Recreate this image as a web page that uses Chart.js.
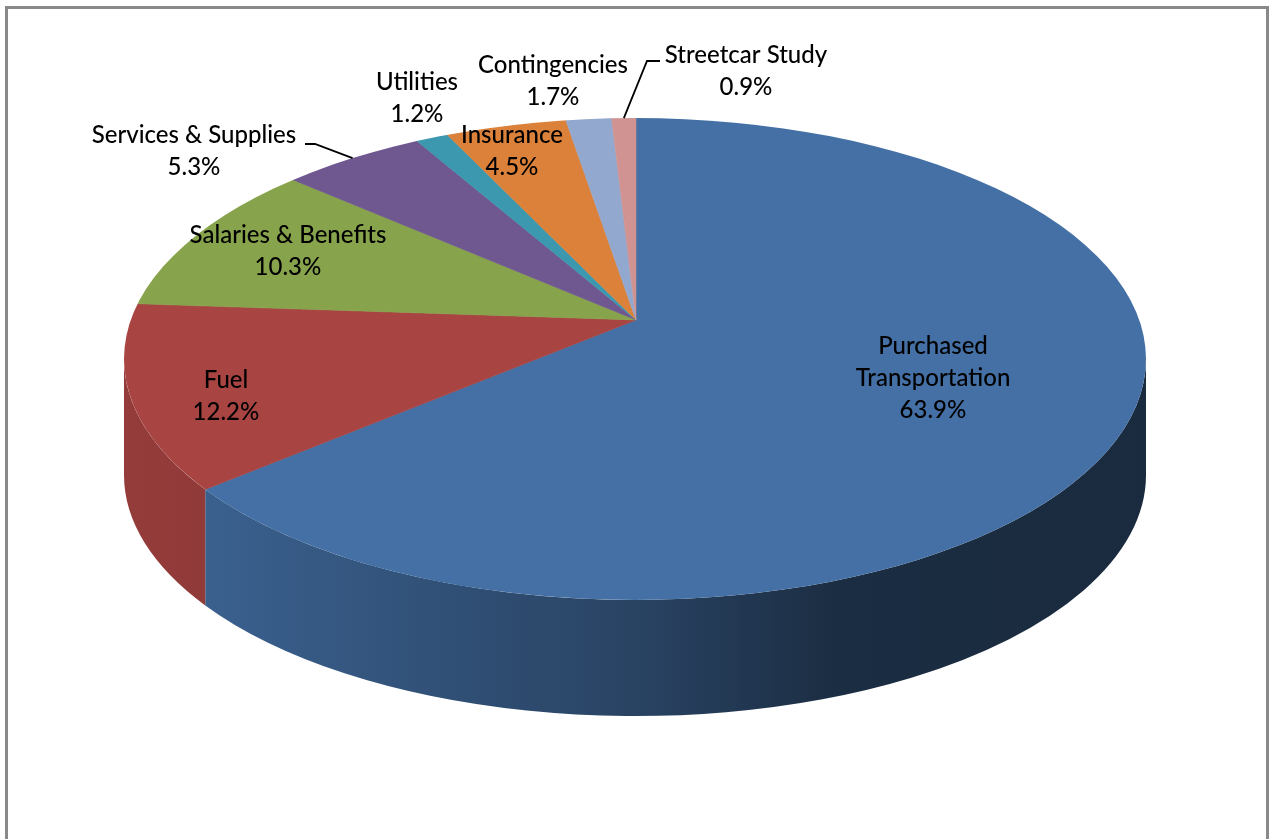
<!DOCTYPE html>
<html>
<head>
<meta charset="utf-8">
<title>Operating budget</title>
<script src="https://cdn.jsdelivr.net/npm/chart.js@4.4.0/dist/chart.umd.min.js"></script>
<style>
  html, body { margin: 0; padding: 0; background: #fff; overflow: hidden; }
  canvas { display: block; }
</style>
</head>
<body>
<canvas id="budgetPie" width="1273" height="839"></canvas>
<script>
// data (percent of total)
const categories = ['Purchased Transportation', 'Fuel', 'Salaries & Benefits', 'Services & Supplies',
                    'Utilities', 'Insurance', 'Contingencies', 'Streetcar Study'];
const shares = [63.9, 12.2, 10.3, 5.3, 1.2, 4.5, 1.7, 0.9];
const sliceColors = ['#4470a5', '#a84442', '#87a34c', '#6f5790', '#3c98ae', '#db813a', '#93a8ce', '#d09392'];

// how the names are broken into lines on the chart
const labelLines = [['Purchased', 'Transportation'], ['Fuel'], ['Salaries & Benefits'], ['Services & Supplies'],
                    ['Utilities'], ['Insurance'], ['Contingencies'], ['Streetcar Study']];
// label anchor: centre x, baseline of first line
const labelPos = [[933, 354], [226, 388], [288, 243], [194, 143], [417, 90], [512, 143], [553, 73], [746, 63]];
// leader lines: start point next to the label, ends on the rim of the slice
const leaders = { 3: [[305, 144], [315, 144]], 7: [[660, 61], [647, 61]] };

// 3d look: top face ellipse and where the slices meet
const face = { cx: 635, cy: 359, rx: 511, ry: 241, depth: 116 };
const apex = { x: 636, y: 320, rx: 620, ry: 291 };

function shade(hex, f) {
  const n = parseInt(hex.slice(1), 16);
  const r = Math.round(((n >> 16) & 255) * f), g = Math.round(((n >> 8) & 255) * f), b = Math.round((n & 255) * f);
  return 'rgb(' + r + ',' + g + ',' + b + ')';
}

// where a slice edge (library angle) meets the rim of the top face
function rimPoint(phi) {
  const ux = apex.rx * Math.cos(phi) / face.rx, uy = apex.ry * Math.sin(phi) / face.ry;
  const ox = (apex.x - face.cx) / face.rx, oy = (apex.y - face.cy) / face.ry;
  const a = ux * ux + uy * uy, b = 2 * (ox * ux + oy * uy), c = ox * ox + oy * oy - 1;
  const s = (-b + Math.sqrt(b * b - 4 * a * c)) / (2 * a);
  const px = ox + s * ux, py = oy + s * uy;
  let t = Math.atan2(py, px);
  while (t - phi > Math.PI) t -= 2 * Math.PI;
  while (phi - t > Math.PI) t += 2 * Math.PI;
  return { t: t, x: face.cx + face.rx * px, y: face.cy + face.ry * py };
}

const pie3d = {
  id: 'pie3d',
  beforeDraw(chart) {
    const ctx = chart.ctx;
    ctx.save();
    ctx.fillStyle = '#fff';
    ctx.fillRect(0, 0, chart.width, chart.height);
    ctx.strokeStyle = '#898989';
    ctx.lineWidth = 3;
    ctx.strokeRect(6.5, 7.5, 1261, 1000);
    ctx.restore();
  },
  beforeDatasetsDraw(chart) {
    const ctx = chart.ctx;
    const arcs = chart.getDatasetMeta(0).data;
    // side walls
    arcs.forEach((arc, i) => {
      const t1 = rimPoint(arc.startAngle).t, t2 = rimPoint(arc.endAngle).t;
      const a = Math.max(t1, 0), b = Math.min(t2, Math.PI);
      if (a >= b) return;
      const grad = ctx.createLinearGradient(face.cx - face.rx, 0, face.cx + face.rx, 0);
      const col = sliceColors[i];
      grad.addColorStop(0, shade(col, 0.88));
      grad.addColorStop(0.085, shade(col, 0.86));
      grad.addColorStop(0.5, shade(col, 0.6));
      grad.addColorStop(0.7, shade(col, 0.4));
      grad.addColorStop(1, shade(col, 0.38));
      ctx.save();
      ctx.beginPath();
      ctx.ellipse(face.cx, face.cy, face.rx, face.ry, 0, a, b, false);
      ctx.ellipse(face.cx, face.cy + face.depth, face.rx, face.ry, 0, b, a, true);
      ctx.closePath();
      ctx.fillStyle = grad;
      ctx.fill();
      ctx.restore();
    });
    // top face: squash the library's pie and clip it to the face ellipse
    const arc0 = arcs[0];
    ctx.save();
    ctx.beginPath();
    ctx.ellipse(face.cx, face.cy, face.rx, face.ry, 0, 0, 2 * Math.PI);
    ctx.clip();
    ctx.translate(apex.x, apex.y);
    ctx.scale(apex.rx / arc0.outerRadius, apex.ry / arc0.outerRadius);
    ctx.translate(-arc0.x, -arc0.y);
  },
  afterDatasetsDraw(chart) {
    chart.ctx.restore();
  },
  afterDraw(chart) {
    const ctx = chart.ctx;
    const arcs = chart.getDatasetMeta(0).data;
    ctx.save();
    ctx.strokeStyle = '#000';
    ctx.lineWidth = 1.8;
    Object.keys(leaders).forEach(k => {
      const arc = arcs[k];
      const end = rimPoint((arc.startAngle + arc.endAngle) / 2);
      const pts = leaders[k];
      ctx.beginPath();
      ctx.moveTo(pts[0][0], pts[0][1]);
      for (let j = 1; j < pts.length; j++) ctx.lineTo(pts[j][0], pts[j][1]);
      ctx.lineTo(end.x, end.y);
      ctx.stroke();
    });
    ctx.fillStyle = '#000';
    ctx.textAlign = 'center';
    ctx.textBaseline = 'alphabetic';
    ctx.font = '500 24px Lato, "Open Sans", sans-serif';
    const lineH = 32;
    categories.forEach((name, i) => {
      const lines = labelLines[i].concat([shares[i].toFixed(1) + '%']);
      const p = labelPos[i];
      lines.forEach((txt, j) => ctx.fillText(txt, p[0], p[1] + j * lineH));
    });
    ctx.restore();
  }
};

new Chart(document.getElementById('budgetPie'), {
  type: 'pie',
  data: {
    labels: categories,
    datasets: [{
      data: shares,
      backgroundColor: sliceColors,
      borderColor: sliceColors,
      borderWidth: 0.5
    }]
  },
  options: {
    responsive: false,
    animation: false,
    layout: { padding: 0 },
    plugins: {
      legend: { display: false },
      tooltip: { enabled: false }
    }
  },
  plugins: [pie3d]
});
</script>
</body>
</html>
